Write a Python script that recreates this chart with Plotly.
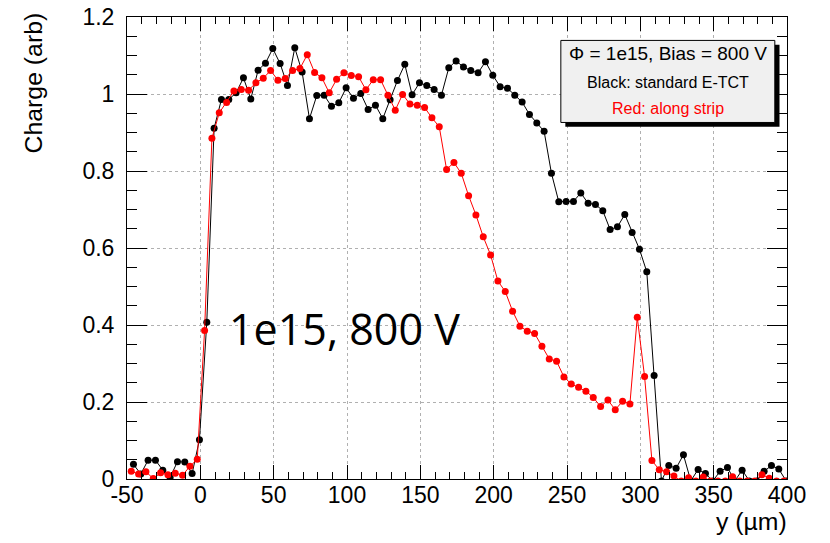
import plotly.graph_objects as go

# ---- data ----
black_x = [-45.6, -40.6, -35.6, -30.6, -25.6, -20.6, -15.6, -10.6, -5.6, -0.6,
           4.4, 9.4, 14.4, 19.4, 24.4, 29.4, 34.4, 39.4, 44.4, 49.4,
           54.4, 59.4, 64.4, 69.4, 74.4, 79.4, 84.4, 89.4, 94.4, 99.4,
           104.4, 109.4, 114.4, 119.4, 124.4, 129.4, 134.4, 139.4, 144.4, 149.4,
           154.4, 159.4, 164.4, 169.4, 174.4, 179.4, 184.4, 189.4, 194.4, 199.4,
           204.4, 209.4, 214.4, 219.4, 224.4, 229.4, 234.4, 239.4, 244.4, 249.4,
           254.4, 259.4, 264.4, 269.4, 274.4, 279.4, 284.4, 289.4, 294.4, 299.4,
           304.4, 309.4, 314.4, 319.4, 324.4, 329.4, 334.4, 339.4, 344.4, 349.4,
           354.4, 359.4, 364.4, 369.4, 374.4, 379.4, 384.4, 389.4, 394.4, 399.4]
black_y = [0.038, 0.013, 0.049, 0.049, 0.023, 0.004, 0.045, 0.044, 0.014, 0.102,
           0.407, 0.911, 0.986, 0.986, 1.003, 1.042, 0.987, 1.062, 1.080, 1.118,
           1.079, 1.022, 1.120, 1.057, 0.936, 0.996, 0.997, 0.968, 0.977, 1.016,
           0.989, 1.001, 0.960, 0.971, 0.936, 0.985, 1.035, 1.077, 0.998, 1.029,
           1.022, 1.012, 0.997, 1.068, 1.086, 1.070, 1.061, 1.055, 1.084, 1.049,
           1.019, 1.015, 0.997, 0.979, 0.947, 0.925, 0.903, 0.794, 0.720, 0.721,
           0.721, 0.743, 0.716, 0.713, 0.697, 0.648, 0.655, 0.687, 0.640, 0.597,
           0.538, 0.269, -0.005, 0.035, 0.028, 0.063, -0.005, 0.025, 0.014, -0.005,
           0.020, 0.030, -0.005, 0.023, -0.005, -0.005, 0.020, 0.035, 0.026, -0.005]

red_x = [-47.1, -42.1, -37.1, -32.1, -27.1, -22.1, -17.1, -12.1, -7.1, -2.1,
         2.9, 7.9, 12.9, 17.9, 22.9, 27.9, 32.9, 37.9, 42.9, 47.9,
         52.9, 57.9, 62.9, 67.9, 72.9, 77.9, 82.9, 87.9, 92.9, 97.9,
         102.9, 107.9, 112.9, 117.9, 122.9, 127.9, 132.9, 137.9, 142.9, 147.9,
         152.9, 157.9, 162.9, 167.9, 172.9, 177.9, 182.9, 187.9, 192.9, 197.9,
         202.9, 207.9, 212.9, 217.9, 222.9, 227.9, 232.9, 237.9, 242.9, 247.9,
         252.9, 257.9, 262.9, 267.9, 272.9, 277.9, 282.9, 287.9, 292.9, 297.9,
         302.9, 307.9, 312.9, 317.9, 322.9, 327.9, 332.9, 337.9, 342.9, 347.9,
         352.9, 357.9, 362.9, 367.9, 372.9, 377.9, 382.9, 387.9, 392.9, 397.9]
red_y = [0.020, 0.013, 0.019, 0.001, 0.016, 0.011, 0.015, 0.010, 0.033, 0.051,
         0.386, 0.885, 0.951, 0.978, 1.008, 1.012, 1.010, 1.029, 1.041, 1.061,
         1.036, 1.040, 1.061, 1.066, 1.102, 1.056, 1.042, 1.003, 1.038, 1.055,
         1.048, 1.045, 1.011, 1.037, 1.037, 0.997, 0.958, 0.999, 0.974, 0.971,
         0.965, 0.938, 0.915, 0.804, 0.822, 0.794, 0.736, 0.686, 0.629, 0.582,
         0.514, 0.487, 0.436, 0.397, 0.384, 0.378, 0.345, 0.312, 0.306, 0.265,
         0.247, 0.238, 0.228, 0.212, 0.188, 0.205, 0.180, 0.202, 0.195, 0.420,
         0.266, 0.048, 0.024, 0.019, 0.008, -0.005, 0.003, -0.005, 0.005, -0.005,
         -0.005, -0.005, 0.006, -0.005, -0.005, -0.005, 0.011, 0.002, -0.005, -0.005]

x_tickvals = [-50, 0, 50, 100, 150, 200, 250, 300, 350, 400]
x_ticktext = ["-50", "0", "50", "100", "150", "200", "250", "300", "350", "400"]
y_tickvals = [0, 0.2, 0.4, 0.6, 0.8, 1.0, 1.2]
y_ticktext = ["0", "0.2", "0.4", "0.6", "0.8", "1", "1.2"]

x_title = "y (µm)"
y_title = "Charge (arb)"
big_label = "1e15, 800 V"
legend_lines = ["Φ = 1e15, Bias = 800 V", "Black: standard E-TCT", "Red: along strip"]

# ---- figure ----
W, H = 830, 543
FX0, FX1, FY0, FY1 = 126.5, 787.5, 17.3, 479.0   # plot frame in window pixels
L, T = FX0, FY0
R, B = W - FX1, H - FY1
pw, ph = FX1 - FX0, FY1 - FY0

def px(xs):
    return (xs - FX0) / pw

def py(ys):
    return (FY1 - ys) / ph

AX_FONT = "Liberation Sans, Arial, Helvetica, sans-serif"

fig = go.Figure()
fig.add_trace(go.Scatter(x=black_x, y=black_y, mode="lines+markers",
                         line=dict(color="black", width=1),
                         marker=dict(color="black", size=7),
                         showlegend=False, cliponaxis=True))
fig.add_trace(go.Scatter(x=red_x, y=red_y, mode="lines+markers",
                         line=dict(color="#ff0000", width=1),
                         marker=dict(color="#ff0000", size=7),
                         showlegend=False, cliponaxis=True))

fig.update_layout(
    width=W, height=H,
    margin=dict(l=L, r=R, t=T, b=B, pad=0, autoexpand=False),
    paper_bgcolor="white", plot_bgcolor="white",
    font=dict(family=AX_FONT, color="black", size=23),
    showlegend=False,
    xaxis=dict(range=[-50, 400], tickvals=x_tickvals, ticktext=x_ticktext,
               ticks="inside", ticklen=14, tickwidth=1, tickcolor="black",
               showline=True, linecolor="black", linewidth=1, mirror="allticks",
               showgrid=True, gridcolor="#b0b0b0", griddash="dot", gridwidth=1,
               zeroline=False, automargin=False, ticklabelstandoff=-5,
               ticklabeloverflow="allow",
               tickfont=dict(size=23, family=AX_FONT),
               minor=dict(dtick=10, ticks="inside", ticklen=7, tickcolor="black",
                          showgrid=False)),
    yaxis=dict(range=[0, 1.2], tickvals=y_tickvals, ticktext=y_ticktext,
               ticks="inside", ticklen=20, tickwidth=1, tickcolor="black",
               showline=True, linecolor="black", linewidth=1, mirror="allticks",
               showgrid=True, gridcolor="#b0b0b0", griddash="dot", gridwidth=1,
               zeroline=False, automargin=False, ticklabelstandoff=7,
               ticklabeloverflow="allow",
               tickfont=dict(size=23, family=AX_FONT),
               minor=dict(dtick=0.05, ticks="inside", ticklen=10, tickcolor="black",
                          showgrid=False)),
)

# legend box with shadow
fig.add_shape(type="rect", xref="paper", yref="paper",
              x0=px(565.5), x1=px(780), y0=py(127), y1=py(45),
              fillcolor="black", line=dict(width=0), layer="above")
fig.add_shape(type="rect", xref="paper", yref="paper",
              x0=px(561), x1=px(775.3), y0=py(122.7), y1=py(40.7),
              fillcolor="#f0f0f0", line=dict(color="black", width=1), layer="above")

cx = px(668)
fig.add_annotation(x=cx, y=py(54), xref="paper", yref="paper", text=legend_lines[0],
                   showarrow=False, xanchor="center", yanchor="middle",
                   font=dict(size=19, color="black", family=AX_FONT))
fig.add_annotation(x=cx, y=py(82.3), xref="paper", yref="paper", text=legend_lines[1],
                   showarrow=False, xanchor="center", yanchor="middle",
                   font=dict(size=16, color="black", family=AX_FONT))
fig.add_annotation(x=cx, y=py(108.7), xref="paper", yref="paper", text=legend_lines[2],
                   showarrow=False, xanchor="center", yanchor="middle",
                   font=dict(size=16, color="#ff0000", family=AX_FONT))

# axis titles
fig.add_annotation(x=px(33), y=py(83), xref="paper", yref="paper", text=y_title,
                   textangle=-90, showarrow=False, xanchor="center", yanchor="middle",
                   font=dict(size=24.8, color="black", family=AX_FONT))
fig.add_annotation(x=px(790), y=py(521), xref="paper", yref="paper", text=x_title,
                   showarrow=False, xanchor="right", yanchor="middle",
                   font=dict(size=24.8, color="black", family=AX_FONT))

# big label
fig.add_annotation(x=px(227), y=py(329), xref="paper", yref="paper", text=big_label,
                   showarrow=False, xanchor="left", yanchor="middle",
                   font=dict(size=43, color="black", family="Open Sans, Noto Sans, sans-serif"))

# remove the default 8px page margin so the 830x543 figure fills the window
fig.write_html("out.html", config={"displayModeBar": False},
               post_script="document.body.style.margin='0px';")
